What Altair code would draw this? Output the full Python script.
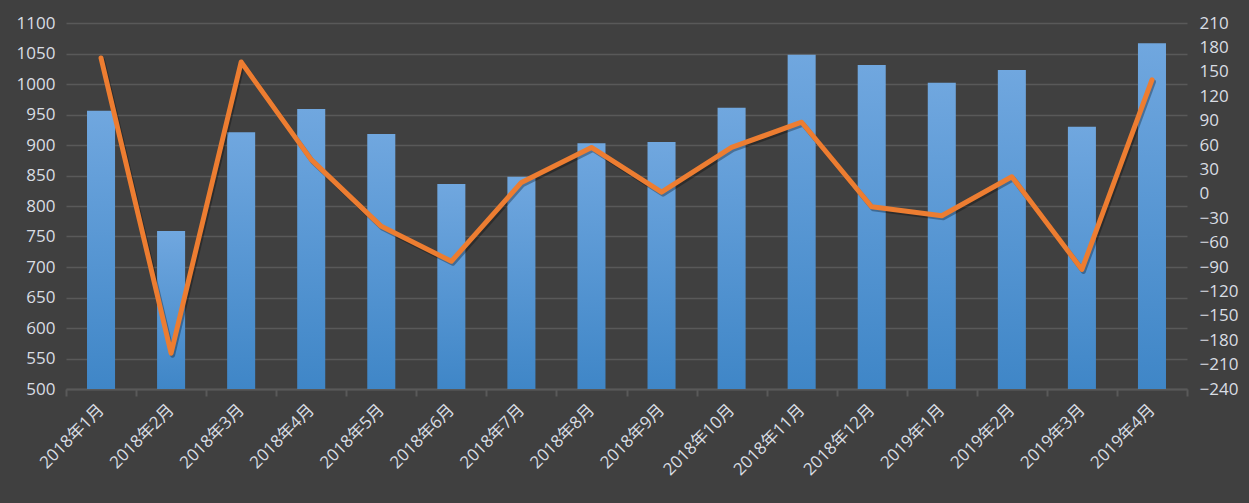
import altair as alt
import pandas as pd

months = ["2018年1月", "2018年2月", "2018年3月", "2018年4月", "2018年5月", "2018年6月",
          "2018年7月", "2018年8月", "2018年9月", "2018年10月", "2018年11月", "2018年12月",
          "2019年1月", "2019年2月", "2019年3月", "2019年4月"]
bar_values = [956, 759, 921, 959, 918, 836, 848, 903, 905, 961, 1048, 1031, 1002, 1023, 930, 1067]
line_values = [167, -196, 162, 42, -40, -83, 14, 57, 2, 57, 88, -16, -27, 21, -93, 140]

left_ticks = list(range(500, 1101, 50))
right_ticks = list(range(-240, 211, 30))
bar_base = 500

df = pd.DataFrame({"month": months, "bar": bar_values, "line": line_values})

FONT = "Open Sans, Noto Sans CJK SC, sans-serif"
TEXT = "#d9dde3"
GRID = "#595959"

x_enc = alt.X(
    "month:N", sort=months, title=None,
    scale=alt.Scale(paddingInner=0, paddingOuter=0),
    axis=alt.Axis(labelAngle=-45, labelAlign="right", labelBaseline="middle",
                  labelFont=FONT, labelFontSize=17, labelColor=TEXT, labelPadding=11,
                  labelLimit=0, labelOverlap=False,
                  tickBand="extent", tickColor=GRID, tickSize=7, tickWidth=2,
                  domainColor=GRID, domainWidth=2, grid=False),
)

gradient = alt.LinearGradient(
    gradient="linear", x1=0, y1=0, x2=0, y2=1,
    stops=[alt.GradientStop(offset=0, color="#70a7df"),
           alt.GradientStop(offset=1, color="#3f86c7")],
)

bars = alt.Chart(df).mark_bar(width=alt.RelativeBandSize(0.4), color=gradient).encode(
    x=x_enc,
    y=alt.Y("bar:Q", title=None,
            scale=alt.Scale(domain=[500, 1100], nice=False, zero=False),
            axis=alt.Axis(orient="left", values=left_ticks, format="d", labelFont=FONT,
                          labelFontSize=17, labelColor=TEXT, labelPadding=11, labelOverlap=False,
                          ticks=False, tickSize=0, domain=False,
                          grid=True, gridColor=GRID, gridWidth=1.5)),
    y2=alt.datum(bar_base),
)

line_shadow = alt.Chart(df).mark_line(color="#000000", opacity=0.3, strokeWidth=5,
                                      strokeJoin="round", strokeCap="round",
                                      xOffset=1.5, yOffset=2).encode(
    x=alt.X("month:N", sort=months),
    y=alt.Y("line:Q", axis=None,
            scale=alt.Scale(domain=[-240, 210], nice=False, zero=False)),
)

line = alt.Chart(df).mark_line(color="#ed7d31", strokeWidth=5,
                               strokeJoin="round", strokeCap="round").encode(
    x=alt.X("month:N", sort=months),
    y=alt.Y("line:Q", title=None,
            scale=alt.Scale(domain=[-240, 210], nice=False, zero=False),
            axis=alt.Axis(orient="right", values=right_ticks, format="d", labelFont=FONT,
                          labelFontSize=17, labelColor=TEXT, labelPadding=12, labelOverlap=False,
                          ticks=False, tickSize=0, domain=False, grid=False)),
)

chart = alt.layer(bars, line_shadow, line).resolve_scale(y="independent").properties(
    width=1121, height=366,
    background="#404040",
    padding={"left": 66, "top": 23, "right": 62, "bottom": 114},
    autosize=alt.AutoSizeParams(type="none"),
).configure_view(stroke=None)

chart.save("out.html", embed_options={"renderer": "svg", "actions": False})
